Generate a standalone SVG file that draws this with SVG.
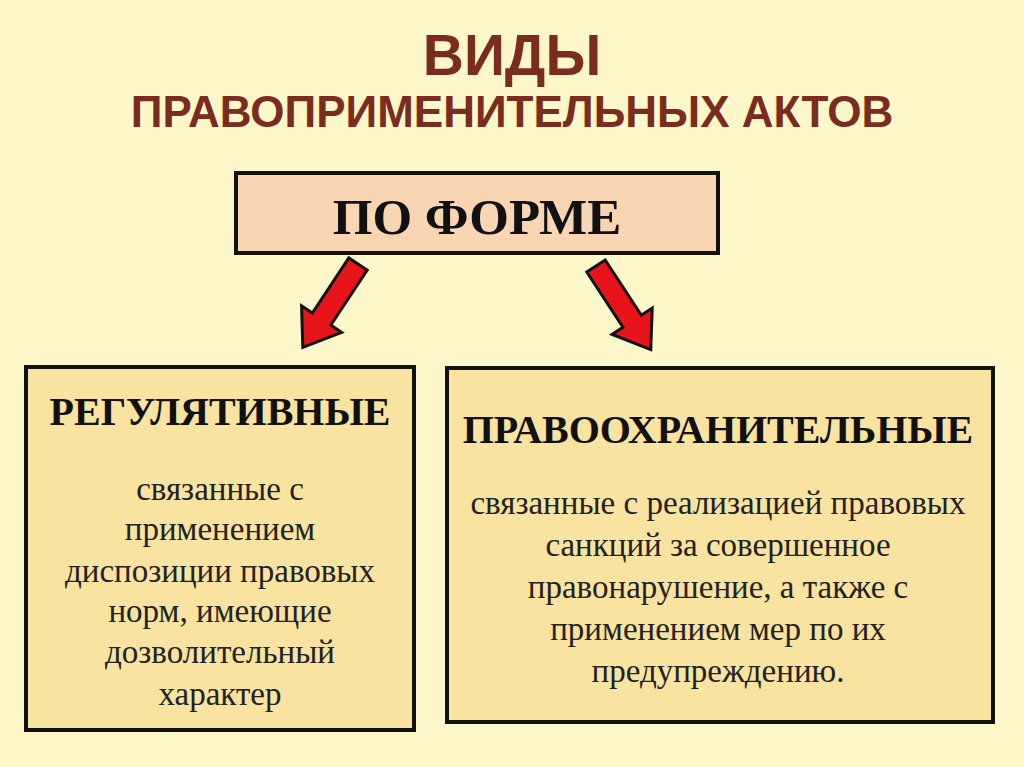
<svg xmlns="http://www.w3.org/2000/svg" width="1024" height="767" viewBox="0 0 1024 767">
<style>
.t{font-family:"Liberation Sans",Arial,sans-serif;font-weight:bold;fill:#7a2c1e;text-anchor:middle}
.h{font-family:"Liberation Serif","Times New Roman",serif;font-weight:bold;fill:#111;text-anchor:middle}
.b{font-family:"Liberation Serif","Times New Roman",serif;fill:#222;text-anchor:middle;font-size:33px}
.box{stroke:#111;stroke-width:4}
.arr{fill:#e8141a;stroke:#111;stroke-width:3;stroke-linejoin:miter}
</style>
<defs><polygon id="ar" class="arr" points="0,-11 66,-11 66,-24 100,0 66,24 66,11 0,11"/></defs>
<rect width="1024" height="767" fill="#fdf7c9"/>
<text class="t" x="512" y="75" font-size="57">ВИДЫ</text>
<text class="t" x="512" y="127" font-size="44">ПРАВОПРИМЕНИТЕЛЬНЫХ АКТОВ</text>
<g id="top"><rect class="box" x="236" y="173" width="482" height="80" fill="#f8d6b4"/>
<text class="h" x="477" y="234" font-size="51">ПО ФОРМЕ</text></g>
<g id="connectors">
<use href="#ar" transform="translate(358,264) rotate(123.5)"/>
<use href="#ar" transform="translate(596,266) rotate(56.8)"/>
</g>
<g id="left"><rect class="box" x="26" y="367" width="388" height="363" fill="#f8e3a0"/>
<text class="h" x="220" y="425" font-size="40">РЕГУЛЯТИВНЫЕ</text>
<text class="b" x="220" y="500">связанные с</text>
<text class="b" x="220" y="540">применением</text>
<text class="b" x="220" y="582">диспозиции правовых</text>
<text class="b" x="220" y="622">норм, имеющие</text>
<text class="b" x="220" y="663">дозволительный</text>
<text class="b" x="220" y="705">характер</text></g>
<g id="right"><rect class="box" x="447" y="368" width="546" height="354" fill="#f8e3a0"/>
<text class="h" x="718" y="443" font-size="40">ПРАВООХРАНИТЕЛЬНЫЕ</text>
<text class="b" x="718" y="514">связанные с реализацией правовых</text>
<text class="b" x="718" y="556">санкций за совершенное</text>
<text class="b" x="718" y="598">правонарушение, а также с</text>
<text class="b" x="718" y="640">применением мер по их</text>
<text class="b" x="718" y="682">предупреждению.</text></g>
</svg>
